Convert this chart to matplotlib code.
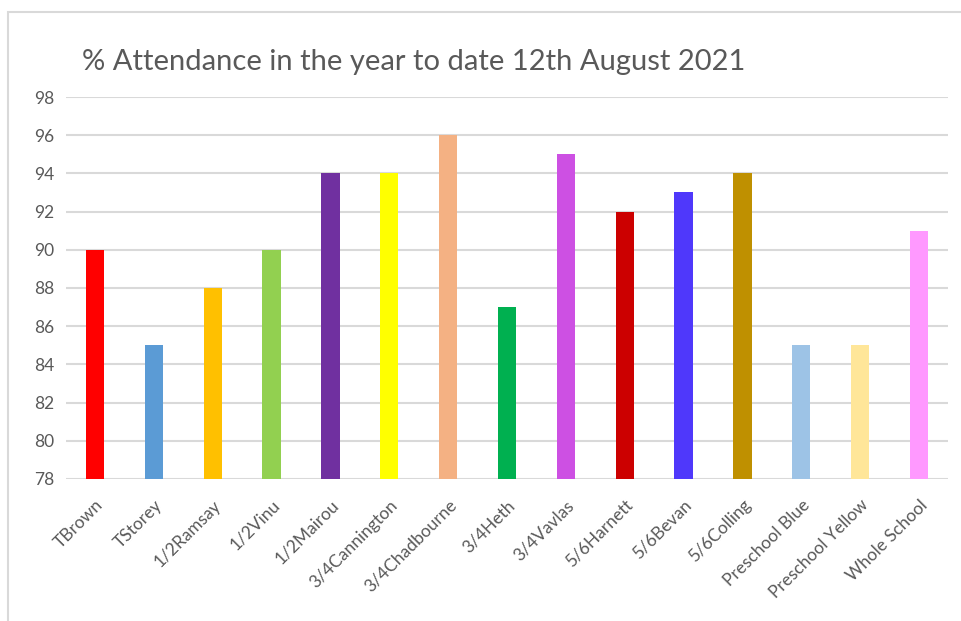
import matplotlib
matplotlib.use("Agg")
import matplotlib.pyplot as plt
from matplotlib.patches import Rectangle

plt.rcParams['font.family'] = ['Lato', 'DejaVu Sans']

classes = ["TBrown", "TStorey", "1/2Ramsay", "1/2Vinu", "1/2Mairou",
           "3/4Cannington", "3/4Chadbourne", "3/4Heth", "3/4Vavlas",
           "5/6Harnett", "5/6Bevan", "5/6Colling", "Preschool Blue",
           "Preschool Yellow", "Whole School"]
attendance = [90, 85, 88, 90, 94, 94, 96, 87, 95, 92, 93, 94, 85, 85, 91]
bar_colors = ["#FF0000", "#5B9BD5", "#FFC000", "#92D050", "#7030A0",
              "#FFFF00", "#F4B183", "#00B050", "#CD50E3", "#CC0000",
              "#4F38FB", "#BF9000", "#9DC3E6", "#FFE699", "#FF99FF"]
yticks = list(range(78, 99, 2))

fig = plt.figure(figsize=(9.61, 6.21), dpi=100)

# chart frame (cropped at right/bottom like the screenshot)
fig.patches.append(Rectangle((8 / 961, -0.05), 1.1, 1.05 - 12 / 621,
                             transform=fig.transFigure, fill=False,
                             edgecolor="#d9d9d9", linewidth=1.5))

ax = fig.add_axes([0.0683, 0.2287, 0.9186, 0.6151])
x = range(len(classes))
ax.bar(x, [v - 78 for v in attendance], bottom=78, width=0.31,
       color=bar_colors, zorder=3)

ax.set_ylim(78, 98)
ax.set_xlim(-0.5, len(classes) - 0.5)
ax.set_yticks(yticks)
ax.set_yticklabels([str(t) for t in yticks], fontsize=12.5, color="#595959")
ax.set_xticks(list(x))
ax.set_xticklabels(classes, rotation=45, ha="right", rotation_mode="anchor",
                   fontsize=12.5, color="#595959")
ax.tick_params(axis="y", length=0, pad=8)
ax.tick_params(axis="x", length=0, pad=13)
ax.grid(axis="y", color="#d9d9d9", linewidth=1.5, zorder=0)
for s in ax.spines.values():
    s.set_visible(False)

fig.text(82 / 961, 1 - 62 / 621, "% Attendance in the year to date 12th August 2021",
         fontsize=21, color="#595959", va="center", ha="left")

fig.savefig("out.png", dpi=100)
